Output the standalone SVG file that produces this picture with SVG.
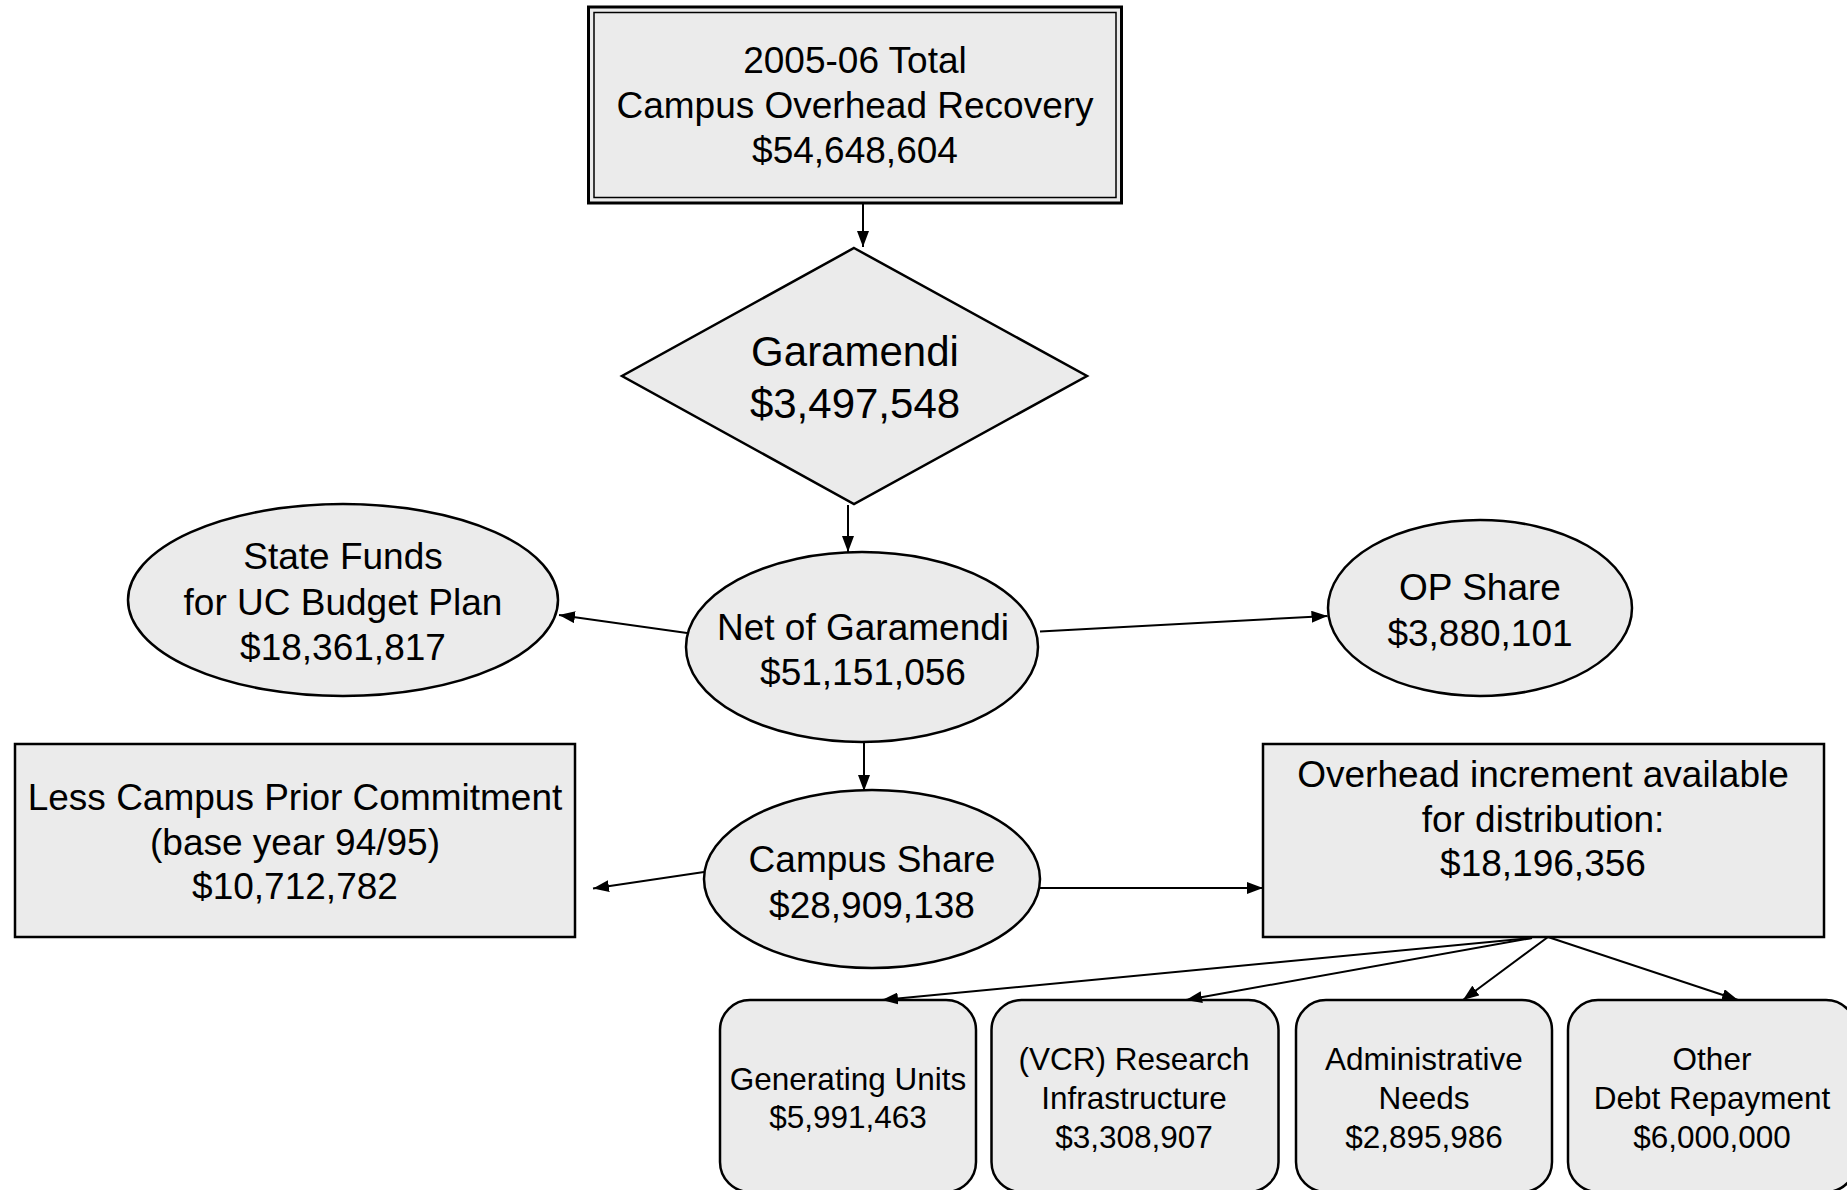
<svg xmlns="http://www.w3.org/2000/svg" width="1847" height="1190" viewBox="0 0 1847 1190">
<style>
.shape{fill:#ebebeb;stroke:#000;stroke-width:2.5}
text{font-family:"Liberation Sans",Arial,sans-serif;fill:#000;text-anchor:middle}
.t37{font-size:37px}
.t42{font-size:42px}
.t32{font-size:31.5px}
.conn line{stroke:#000;stroke-width:2;marker-end:url(#ah)}
</style>
<defs>
<marker id="ah" viewBox="0 0 16 12" refX="16" refY="6" markerWidth="16" markerHeight="12" orient="auto" markerUnits="userSpaceOnUse"><path d="M0,0 L16,6 L0,12 z" fill="#000"/></marker>
</defs>
<rect width="1847" height="1190" fill="#fff"/>
<g id="total">
<rect x="588.5" y="7" width="533" height="196" fill="#ebebeb" stroke="#000" stroke-width="3"/>
<rect x="594" y="12.5" width="522" height="185" fill="none" stroke="#000" stroke-width="1.5"/>
<text class="t37" x="855" y="73">2005-06 Total</text>
<text class="t37" x="855" y="118">Campus Overhead Recovery</text>
<text class="t37" x="855" y="163">$54,648,604</text>
</g>
<g id="garamendi">
<polygon class="shape" points="854,248 1087,376 854,504 622,376"/>
<text class="t42" x="855" y="366">Garamendi</text>
<text class="t42" x="855" y="418">$3,497,548</text>
</g>
<g id="net">
<ellipse class="shape" cx="862" cy="647" rx="176" ry="95"/>
<text class="t37" x="863" y="640">Net of Garamendi</text>
<text class="t37" x="863" y="685">$51,151,056</text>
</g>
<g id="state">
<ellipse class="shape" cx="343" cy="600" rx="215" ry="96"/>
<text class="t37" x="343" y="569">State Funds</text>
<text class="t37" x="343" y="615">for UC Budget Plan</text>
<text class="t37" x="343" y="660">$18,361,817</text>
</g>
<g id="op">
<ellipse class="shape" cx="1480" cy="608" rx="152" ry="88"/>
<text class="t37" x="1480" y="600">OP Share</text>
<text class="t37" x="1480" y="646">$3,880,101</text>
</g>
<g id="campus">
<ellipse class="shape" cx="872" cy="879" rx="168" ry="89"/>
<text class="t37" x="872" y="872">Campus Share</text>
<text class="t37" x="872" y="918">$28,909,138</text>
</g>
<g id="prior">
<rect class="shape" x="15" y="744" width="560" height="193"/>
<text class="t37" x="295" y="810">Less Campus Prior Commitment</text>
<text class="t37" x="295" y="855">(base year 94/95)</text>
<text class="t37" x="295" y="899">$10,712,782</text>
</g>
<g id="increment">
<rect class="shape" x="1263" y="744" width="561" height="193"/>
<text class="t37" x="1543" y="787">Overhead increment available</text>
<text class="t37" x="1543" y="832">for distribution:</text>
<text class="t37" x="1543" y="876">$18,196,356</text>
</g>
<g id="generating">
<rect class="shape" x="720" y="1000" width="256" height="192" rx="30" ry="30"/>
<text class="t32" x="848" y="1090">Generating Units</text>
<text class="t32" x="848" y="1128">$5,991,463</text>
</g>
<g id="vcr">
<rect class="shape" x="991.5" y="1000" width="287" height="192" rx="30" ry="30"/>
<text class="t32" x="1134" y="1070">(VCR) Research</text>
<text class="t32" x="1134" y="1109">Infrastructure</text>
<text class="t32" x="1134" y="1148">$3,308,907</text>
</g>
<g id="admin">
<rect class="shape" x="1296" y="1000" width="256" height="192" rx="30" ry="30"/>
<text class="t32" x="1424" y="1070">Administrative</text>
<text class="t32" x="1424" y="1109">Needs</text>
<text class="t32" x="1424" y="1148">$2,895,986</text>
</g>
<g id="other">
<rect class="shape" x="1568" y="1000" width="288" height="192" rx="30" ry="30"/>
<text class="t32" x="1712" y="1070">Other</text>
<text class="t32" x="1712" y="1109">Debt Repayment</text>
<text class="t32" x="1712" y="1148">$6,000,000</text>
</g>
<g id="connectors" class="conn">
<line x1="863" y1="204" x2="863" y2="247"/>
<line x1="848" y1="505" x2="848" y2="552"/>
<line x1="687" y1="633" x2="559" y2="615"/>
<line x1="1040" y1="631.5" x2="1327.5" y2="616"/>
<line x1="864" y1="742" x2="864" y2="791"/>
<line x1="704" y1="872" x2="593" y2="888.5"/>
<line x1="1040" y1="888" x2="1263" y2="888"/>
<line x1="1532" y1="938" x2="882" y2="1000"/>
<line x1="1532" y1="938" x2="1186" y2="1000"/>
<line x1="1548" y1="937" x2="1463" y2="1000"/>
<line x1="1548" y1="937" x2="1738" y2="1000"/>
</g>
</svg>
